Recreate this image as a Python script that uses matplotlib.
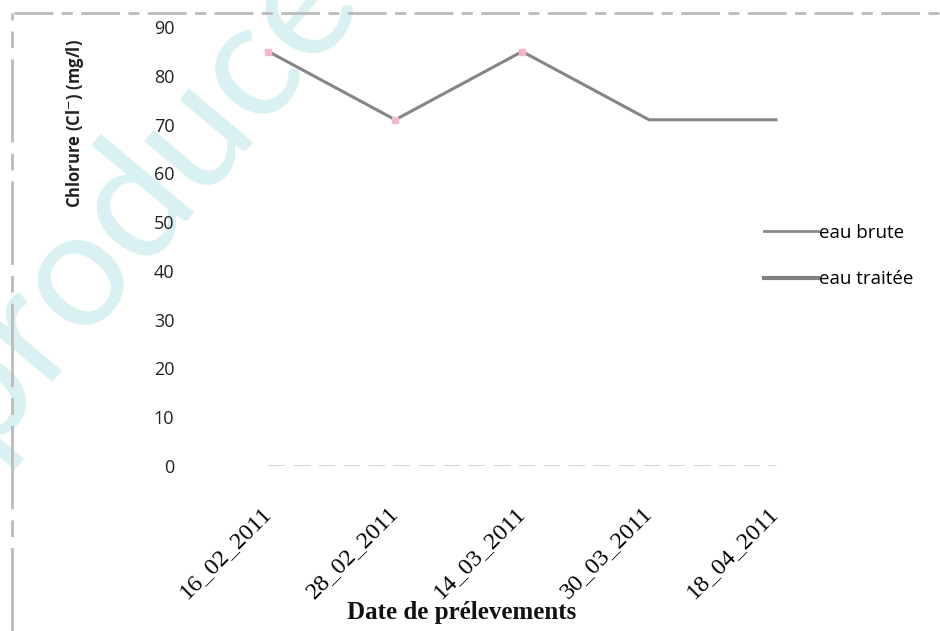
import matplotlib
matplotlib.use("Agg")
import matplotlib.pyplot as plt
import matplotlib.transforms as mtransforms
from matplotlib.lines import Line2D

# sampling dates and chloride values (mg/l)
dates = ["16_02_2011", "28_02_2011", "14_03_2011", "30_03_2011", "18_04_2011"]
eau_brute = [85, 71, 85, 71, 71]
eau_traitee = [0, 0, 0, 0, 0]
y_ticks = [0, 10, 20, 30, 40, 50, 60, 70, 80, 90]

fig = plt.figure(figsize=(9.4, 6.31), dpi=100)
ax = fig.add_axes([0.218, 0.2615, 0.675, 0.6955])
ax.set_zorder(2)
ax.patch.set_alpha(0)

x = list(range(len(dates)))
ax.plot(x, eau_traitee, color="#d0d0d0", lw=2, ls=(0, (6, 3)), label="eau traitée", zorder=2)
ax.plot(x, eau_brute, color="#858585", lw=2.2, label="eau brute", zorder=3,
        marker="s", markersize=5, markevery=[0, 1, 2],
        markerfacecolor="#f4b6c8", markeredgecolor="#f4b6c8")

ax.set_xlim(-0.5, len(dates) - 0.5)
ax.set_ylim(0, 90)
ax.set_yticks(y_ticks)
ax.set_xticks(x)
ax.set_xticklabels(dates, rotation=45, ha="right", rotation_mode="anchor",
                   fontfamily="Liberation Serif", fontsize=17.5)
ax.tick_params(axis="x", length=0, pad=26)
ax.tick_params(axis="y", length=0, pad=22, labelsize=13)
shift = mtransforms.ScaledTranslation(-8 / 100, 0, fig.dpi_scale_trans)
for lab in ax.get_xticklabels():
    lab.set_transform(lab.get_transform() + shift)
for lab in ax.get_yticklabels():
    lab.set_fontfamily("Open Sans")
    lab.set_color("#222222")
for s in ax.spines.values():
    s.set_visible(False)

fig.text(75 / 940, 1 - 124 / 631, "Chlorure (Cl$^{-}$) (mg/l)", rotation=90,
         ha="center", va="center", fontsize=12, fontweight="bold", color="#222222",
         fontfamily="Open Sans", zorder=3)
fig.text(462 / 940, 1 - 612 / 631, "Date de prélevements", ha="center", va="center",
         fontsize=18, fontweight="bold", fontfamily="Liberation Serif", color="#111111",
         zorder=3)

handles = [Line2D([], [], color="#8a8a8a", lw=2),
           Line2D([], [], color="#808080", lw=3)]
leg = fig.legend(handles, ["eau brute", "eau traitée"], loc="center left",
                 bbox_to_anchor=(747 / 940, 1 - 256 / 631), frameon=False,
                 handlelength=2.9, handletextpad=0.05, labelspacing=1.5,
                 prop={"family": "Open Sans", "size": 13.5})
leg.set_zorder(3)

# faint page frame lines
fig.add_artist(Line2D([14 / 940, 1], [1 - 13 / 631, 1 - 13 / 631], color="#bbbbbb",
                      lw=2, ls=(0, (14, 3, 4, 3))))
fig.add_artist(Line2D([12 / 940, 12 / 940], [0, 1 - 13 / 631], color="#bbbbbb",
                      lw=2, ls=(0, (30, 4, 6, 4))))

# watermark, kept under the chart
fig.text(120 / 940, 1 - 215 / 631, "reproduced", rotation=50, ha="center", va="center",
         fontsize=118, color="#d9f1f3", fontfamily="Lato", fontweight="normal", zorder=0)

fig.savefig("out.png", dpi=100)
